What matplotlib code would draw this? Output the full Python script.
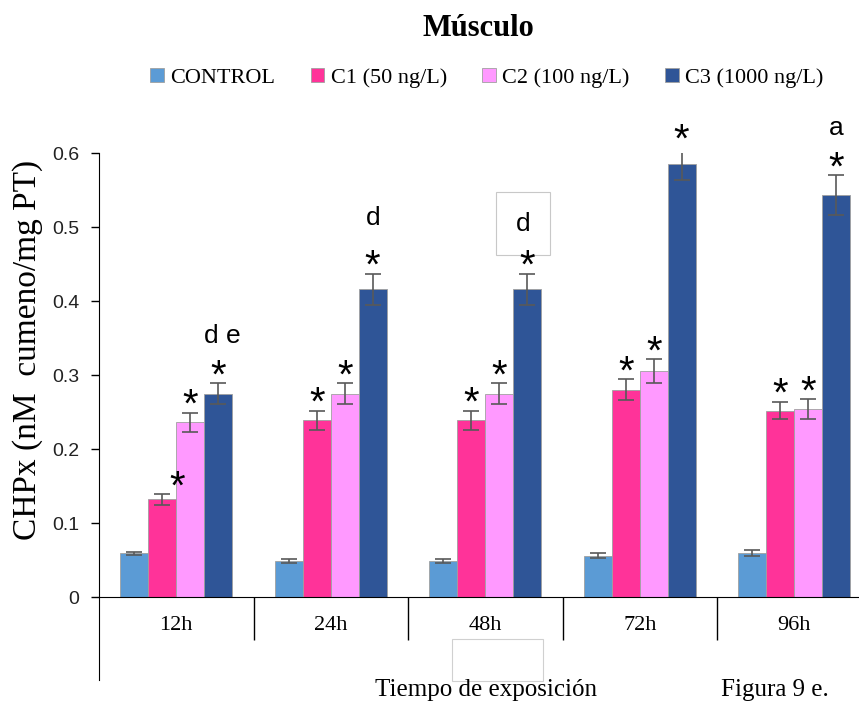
import numpy as np
import matplotlib.pyplot as plt
from matplotlib.patches import Rectangle

# datos
tiempos = ["12h", "24h", "48h", "72h", "96h"]
series = ["CONTROL", "C1 (50 ng/L)", "C2 (100 ng/L)", "C3 (1000 ng/L)"]
control = [0.059, 0.049, 0.049, 0.056, 0.060]
c1 = [0.132, 0.239, 0.239, 0.280, 0.252]
c2 = [0.236, 0.275, 0.275, 0.305, 0.254]
c3 = [0.275, 0.416, 0.416, 0.585, 0.543]
err_control = [0.002, 0.003, 0.003, 0.003, 0.004]
err_c1 = [0.007, 0.013, 0.013, 0.014, 0.012]
err_c2 = [0.013, 0.014, 0.014, 0.016, 0.013]
err_c3 = [0.014, 0.021, 0.021, 0.022, 0.027]
asteriscos = [False, True, True, True]
letras_c3 = ["d e", "d", "d", "", "a"]
letra_con_caja = 2

colores = ["#5B9BD5", "#FF3399", "#FF99FF", "#2F5597"]
valores = [control, c1, c2, c3]
errores = [err_control, err_c1, err_c2, err_c3]

plt.rcParams['font.family'] = ['Liberation Serif', 'DejaVu Serif']

fig = plt.figure(figsize=(8.59, 7.05), dpi=100)
ax = fig.add_axes([99 / 859, 1 - 597 / 705, 760 / 859, 444 / 705])

x = np.arange(len(tiempos))
w = 0.181
handles = []
for i, (vals, errs) in enumerate(zip(valores, errores)):
    pos = x + (i - 1.5) * w
    b = ax.bar(pos, vals, w, color=colores[i], edgecolor="#a0a0a0", lw=0.6,
               label=series[i], zorder=2)
    handles.append(b)
    ax.errorbar(pos, vals, yerr=errs, fmt="none", ecolor="#595959",
                elinewidth=1.2, capsize=5.5, capthick=1.2, zorder=3)
    if asteriscos[i]:
        for j in range(len(tiempos)):
            dx = 11 if (i == 1 and j == 0) else 0
            ax.annotate("*", (pos[j], vals[j] + errs[j]), xytext=(dx, -3),
                        textcoords="offset points", ha="center", va="baseline",
                        fontsize=29, family="Liberation Sans", zorder=4,
                        annotation_clip=False)

pos3 = x + 1.5 * w
for j, letra in enumerate(letras_c3):
    if not letra:
        continue
    top = c3[j] + err_c3[j]
    dy = 35 if j == 1 else 29
    if j == letra_con_caja:
        ax.annotate(letra, (pos3[j], top), xytext=(-3, 31),
                    textcoords="offset points", ha="center", va="baseline",
                    fontsize=19, family="Liberation Sans", annotation_clip=False,
                    bbox=dict(boxstyle="square,pad=0.75", fc="white",
                              ec="#c8c8c8", lw=0.8))
    else:
        ax.annotate(letra, (pos3[j], top), xytext=(3 if j == 0 else 0, dy),
                    textcoords="offset points", ha="center", va="baseline",
                    fontsize=19, family="Liberation Sans", annotation_clip=False)

ax.set_xlim(-0.5, -0.5 + 760 / 154.5)
ax.set_ylim(0, 0.6)
ax.spines["top"].set_visible(False)
ax.spines["right"].set_visible(False)
ax.spines["left"].set_bounds(-0.112, 0.6)

ax.set_yticks(np.arange(0, 0.61, 0.1))
ax.set_yticklabels(["0", "0.1", "0.2", "0.3", "0.4", "0.5", "0.6"],
                   family="Liberation Sans", fontsize=14, color="#222222")
ax.tick_params(axis="y", direction="out", length=6, width=1, pad=8)

ax.set_xticks(x[1:] - 0.5)
ax.set_xticklabels([])
ax.tick_params(axis="x", which="major", direction="out", length=31, width=1)
ax.set_xticks(x, minor=True)
ax.set_xticklabels(tiempos, minor=True, fontsize=16)
ax.tick_params(axis="x", which="minor", direction="in", length=3, width=1, pad=14)

fig.text(478 / 859, 1 - 28 / 705, "Músculo", ha="center", va="center",
         fontsize=22, fontweight="bold")
fig.legend(handles=handles, loc="center", bbox_to_anchor=(487 / 859, 1 - 78 / 705),
           ncol=4, frameon=False, fontsize=16, handlelength=0.6, handleheight=0.6,
           handletextpad=0.3, columnspacing=1.6)
fig.text(28 / 859, 1 - 350 / 705, "CHPx (nM  cumeno/mg PT)", rotation=90,
         ha="center", va="center", fontsize=24)
fig.text(486 / 859, 1 - 690 / 705, "Tiempo de exposición", ha="center",
         va="center", fontsize=18)
fig.text(775 / 859, 1 - 690 / 705, "Figura 9 e.", ha="center", va="center",
         fontsize=18)
fig.patches.append(Rectangle((452 / 859, 1 - 681 / 705), 91 / 859, 42 / 705,
                             transform=fig.transFigure, fill=False,
                             ec="#d0d0d0", lw=0.8))

fig.savefig("out.png", dpi=100)
